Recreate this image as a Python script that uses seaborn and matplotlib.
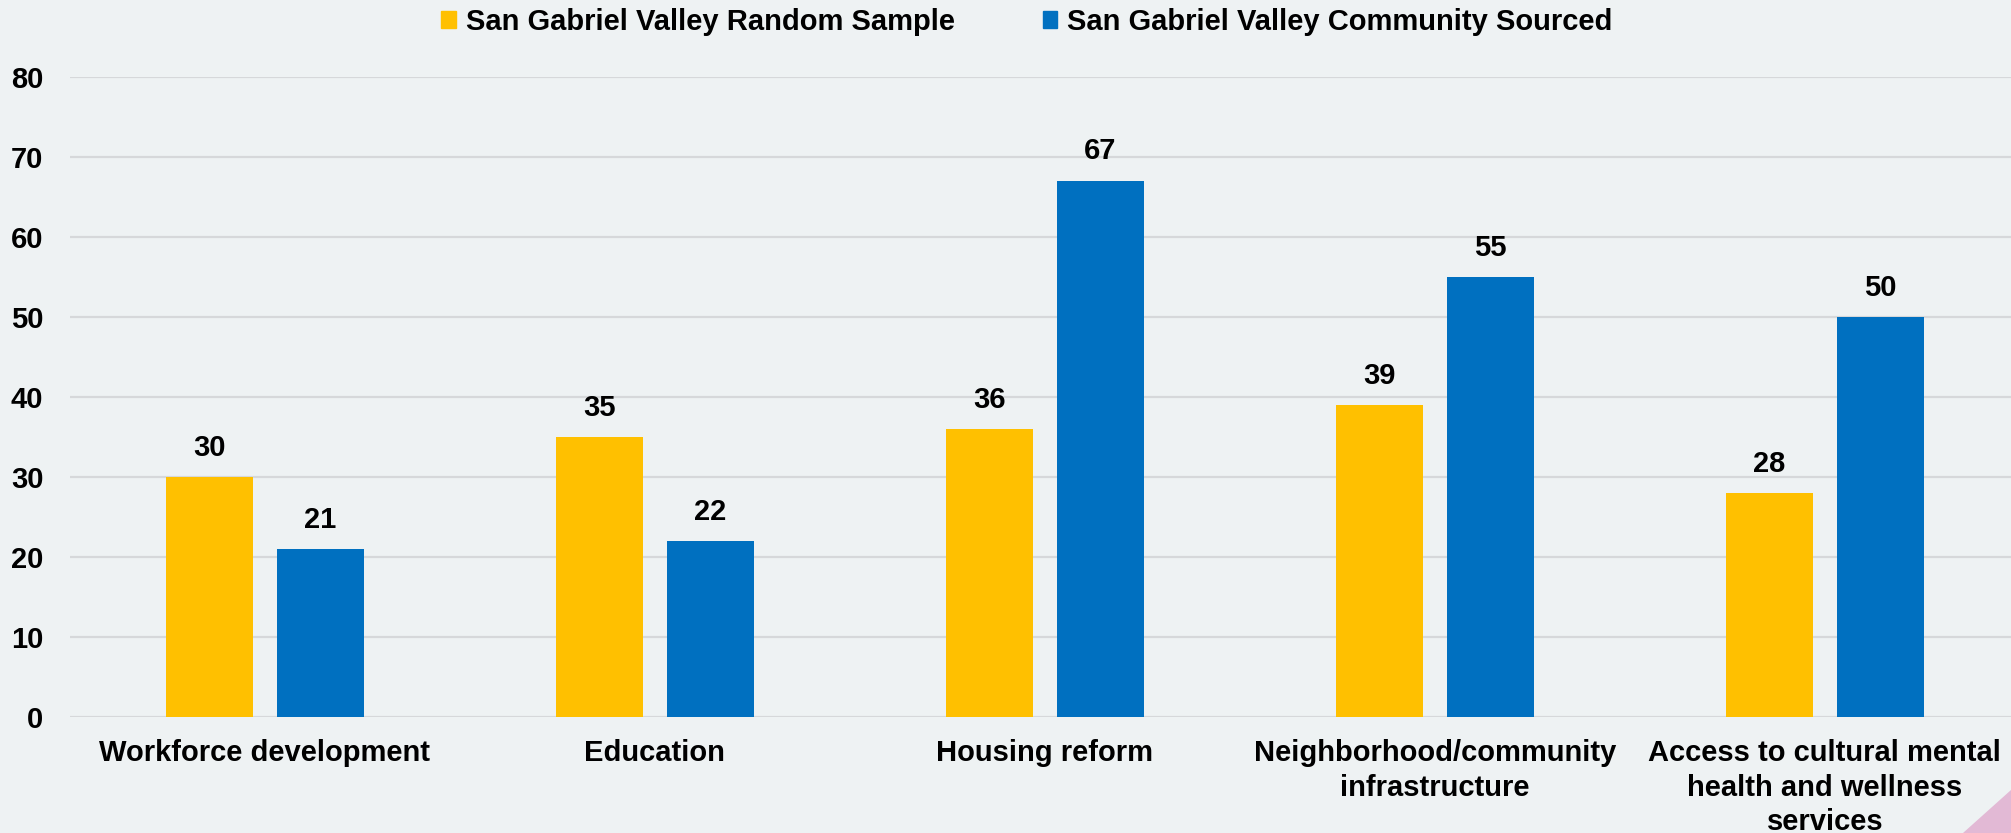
import pandas as pd
import seaborn as sns
import matplotlib.pyplot as plt
from matplotlib.patches import Polygon

# Chart data
categories = [
    "Workforce development",
    "Education",
    "Housing reform",
    "Neighborhood/community\ninfrastructure",
    "Access to cultural mental\nhealth and wellness\nservices",
]
random_sample = [30, 35, 36, 39, 28]
community_sourced = [21, 22, 67, 55, 50]
series_names = ["San Gabriel Valley Random Sample", "San Gabriel Valley Community Sourced"]
y_ticks = [0, 10, 20, 30, 40, 50, 60, 70, 80]

df = pd.DataFrame({
    "category": categories * 2,
    "series": [series_names[0]] * 5 + [series_names[1]] * 5,
    "value": random_sample + community_sourced,
})

bg = "#EEF2F3"
colors = ["#FFC000", "#0070C0"]

sns.set_theme(style="white")
plt.rcParams["font.family"] = ["Liberation Sans", "DejaVu Sans"]
plt.rcParams["font.weight"] = "bold"
plt.rcParams["text.color"] = "black"

W, H = 2011, 833
fig = plt.figure(figsize=(W / 100, H / 100), dpi=100, facecolor=bg)
ax = fig.add_axes([69.8 / W, 1 - 717 / H, 1950 / W, (717 - 76.7) / H])
ax.set_facecolor(bg)

sns.barplot(data=df, x="category", y="value", hue="series", order=categories,
            hue_order=series_names, palette=colors, width=0.57, gap=0.22,
            saturation=1, linewidth=0, ax=ax, legend=False)

for cont in ax.containers:
    ax.bar_label(cont, fontsize=21, fontweight="bold", padding=11, color="black")

ax.set_xlim(-0.5, 4.5)
ax.set_ylim(0, 80)
ax.set_yticks(y_ticks)
ax.set_axisbelow(True)
ax.yaxis.grid(True, color="#D6D8DA", linewidth=1.6)
for s in ax.spines.values():
    s.set_visible(False)
ax.tick_params(axis="y", length=0, pad=19, labelsize=21, labelcolor="black")
ax.tick_params(axis="x", length=0, pad=16, labelsize=21, labelcolor="black")
for lbl in ax.get_yticklabels() + ax.get_xticklabels():
    lbl.set_fontweight("bold")
for lbl in ax.get_xticklabels():
    lbl.set_linespacing(1.3)
ax.set_xlabel("")
ax.set_ylabel("")

# Legend at the top
handles = [plt.Rectangle((0, 0), 1, 1, color=c) for c in colors]
leg = fig.legend(handles, series_names, loc="center", bbox_to_anchor=(1027 / W, 1 - 22 / H),
                 ncol=2, frameon=False, prop={"weight": "bold", "size": 21},
                 handlelength=0.5, handleheight=0.5, handletextpad=0.35, columnspacing=3.0)
for t in leg.get_texts():
    t.set_color("black")

# Decorative corner triangle
fig.patches.append(Polygon([(1963 / W, 0), (1, 0), (1, 1 - 790 / H)], closed=True,
                           transform=fig.transFigure, facecolor="#E2B9D5", edgecolor="none"))

fig.savefig("out.png", dpi=100, facecolor=bg)
